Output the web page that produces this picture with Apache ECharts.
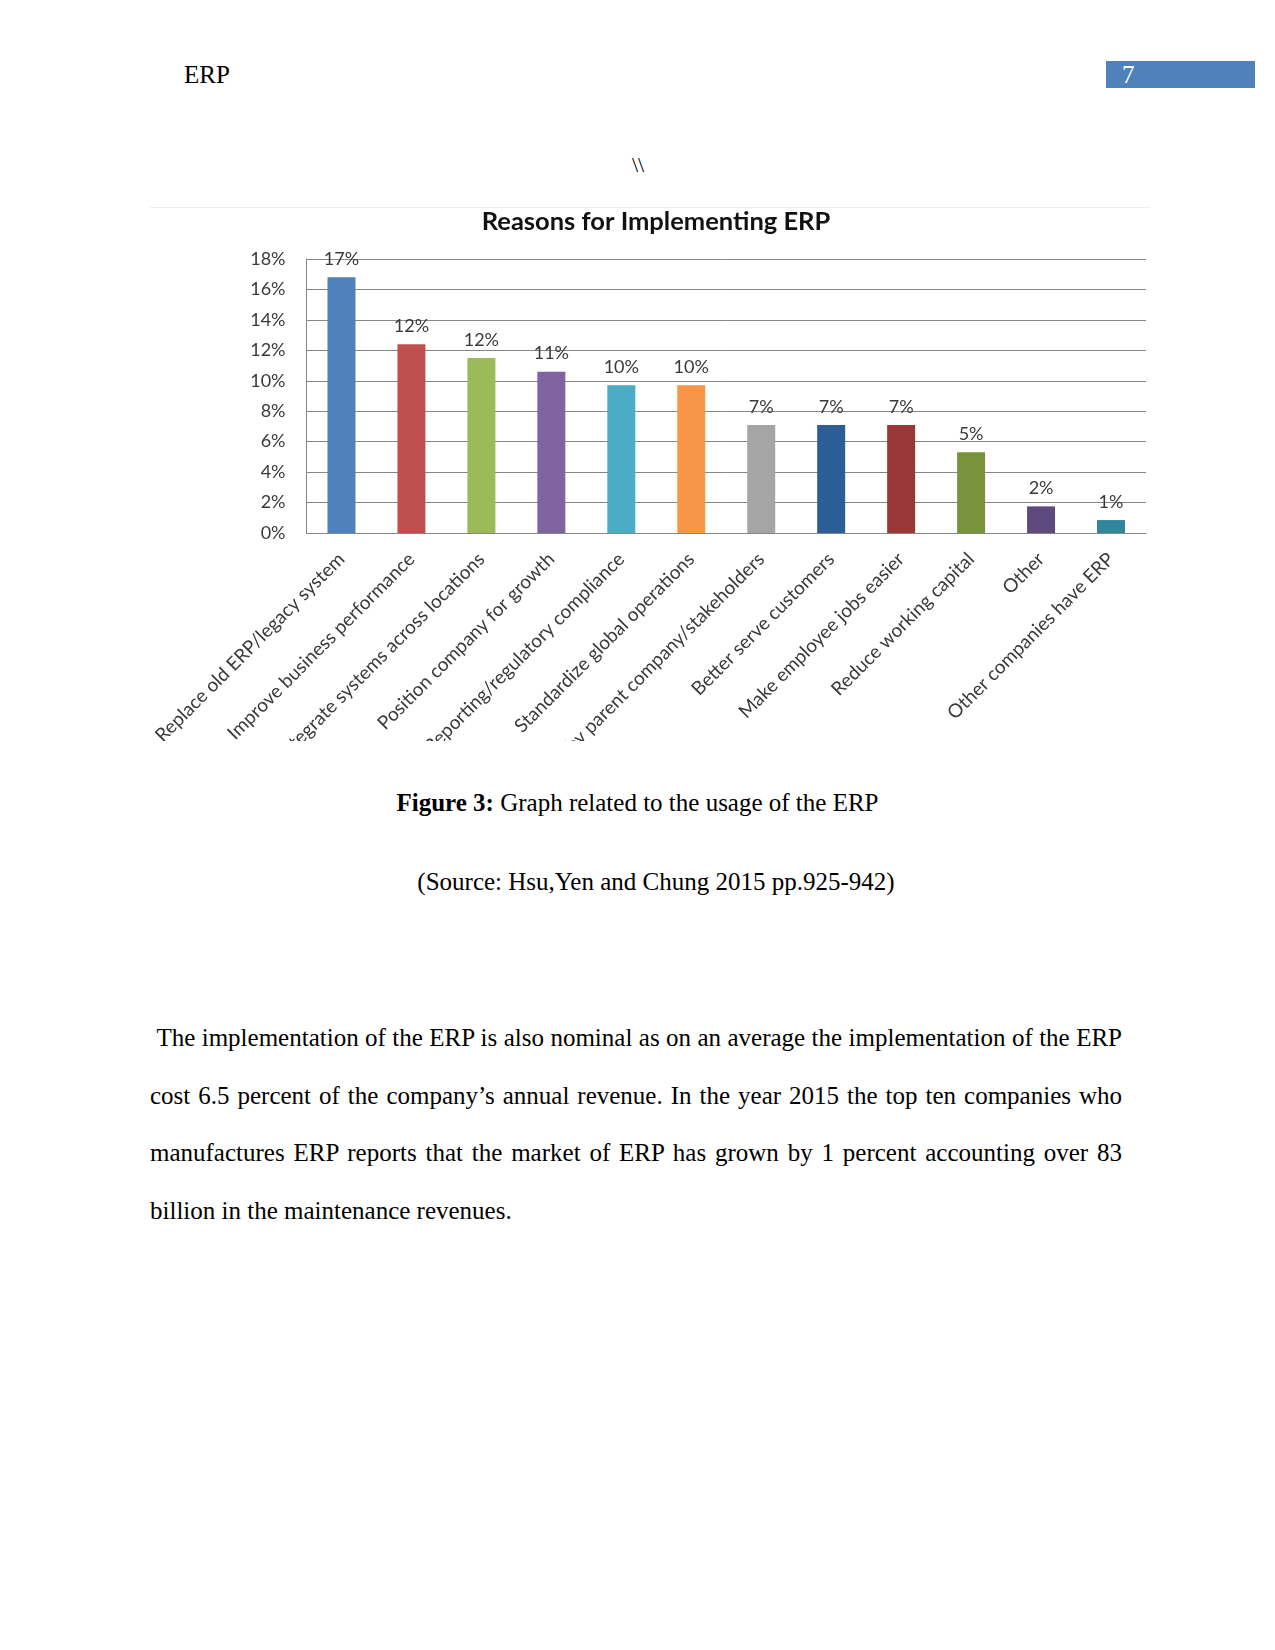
<!DOCTYPE html>
<html>
<head>
<meta charset="utf-8">
<script src="https://cdn.jsdelivr.net/npm/echarts@6/dist/echarts.min.js"></script>
<style>
  html, body { margin: 0; padding: 0; background: #fff; }
  body { width: 1275px; height: 1650px; position: relative; overflow: hidden; font-family: "Liberation Serif", "Times New Roman", serif; color: #000; }
  .abs { position: absolute; white-space: nowrap; }
  #hdr { left: 184px; top: 60px; font-size: 25px; line-height: 30px; }
  #pg { left: 1106px; top: 61px; width: 149px; height: 27px; background: #4F81BD; color: #fff; font-size: 25px; line-height: 27px; padding-left: 16px; box-sizing: border-box; }
  #bs { left: 632px; top: 150px; font-size: 22px; line-height: 30px; }
  #chart { position: absolute; left: 150px; top: 207px; width: 1000px; height: 533px; border-top: 1px solid #eeeeee; }
  #cap { left: 0; width: 1275px; text-align: center; top: 788px; font-size: 25px; line-height: 30px; padding-left: 0px; box-sizing: border-box; }
  #src { left: 0; width: 1275px; text-align: center; top: 867px; font-size: 25px; line-height: 30px; padding-left: 37px; box-sizing: border-box; }
  #para { position: absolute; left: 150px; top: 1009px; width: 972px; font-size: 25px; line-height: 57.7px; text-align: justify; }
</style>
</head>
<body>
<div class="abs" id="hdr">ERP</div>
<div class="abs" id="pg">7</div>
<div class="abs" id="bs">\\</div>
<div id="chart"></div>
<div class="abs" id="cap"><b>Figure 3:</b> Graph related to the usage of the ERP</div>
<div class="abs" id="src">(Source: Hsu,Yen and Chung 2015 pp.925-942)</div>
<div id="para">&nbsp;The implementation of the ERP is also nominal as on an average the implementation of the ERP cost 6.5 percent of the company’s annual revenue. In the year 2015 the top ten companies who manufactures ERP reports that the market of ERP has grown by 1 percent accounting over 83 billion in the maintenance revenues.</div>
<script>
const chartTitle = "Reasons for Implementing ERP";
const categories = [
  "Replace old ERP/legacy system",
  "Improve business performance",
  "Integrate systems across locations",
  "Position company for growth",
  "Reporting/regulatory compliance",
  "Standardize global operations",
  "Mandate by parent company/stakeholders",
  "Better serve customers",
  "Make employee jobs easier",
  "Reduce working capital",
  "Other",
  "Other companies have ERP"
];
const values = [16.8, 12.4, 11.5, 10.6, 9.7, 9.7, 7.1, 7.1, 7.1, 5.3, 1.75, 0.85];
const valueLabels = ["17%", "12%", "12%", "11%", "10%", "10%", "7%", "7%", "7%", "5%", "2%", "1%"];
const barColors = ["#4F81BD", "#C0504D", "#9BBB59", "#8064A2", "#4BACC6", "#F79646", "#A5A5A5", "#2C5D96", "#983735", "#77933C", "#5F4A7E", "#31859C"];
const yTicks = [0, 2, 4, 6, 8, 10, 12, 14, 16, 18];

const chart = echarts.init(document.getElementById('chart'), null, { renderer: 'canvas' });
const font = 'Lato, "Open Sans", sans-serif';
chart.setOption({
  animation: false,
  title: {
    text: chartTitle,
    left: 501, textAlign: 'center', top: -4,
    textStyle: { fontFamily: font, fontWeight: 'bold', fontSize: 25.5, color: '#111111' }
  },
  grid: { left: 156.5, right: 4, top: 51, bottom: 208, containLabel: false, outerBoundsMode: 'none' },
  xAxis: {
    type: 'category',
    data: categories,
    axisLine: { lineStyle: { color: '#868686', width: 1 } },
    axisTick: { show: false },
    axisLabel: { interval: 0, rotate: 45, margin: 23, fontFamily: font, fontSize: 19, color: '#3a3a3a' }
  },
  yAxis: {
    type: 'value',
    min: yTicks[0], max: yTicks[yTicks.length - 1], interval: 2,
    axisLine: { show: true, lineStyle: { color: '#868686', width: 1 } },
    axisTick: { show: false },
    splitLine: { lineStyle: { color: '#868686', width: 1 } },
    axisLabel: { formatter: '{value}%', margin: 21, fontFamily: font, fontSize: 18, color: '#3a3a3a' }
  },
  series: [{
    type: 'bar',
    barWidth: 28,
    data: values.map((v, i) => ({ value: v, itemStyle: { color: barColors[i] } })),
    label: {
      show: true, position: 'top', distance: 9,
      formatter: p => valueLabels[p.dataIndex],
      fontFamily: font, fontSize: 18, color: '#3a3a3a'
    }
  }]
});
</script>
</body>
</html>
